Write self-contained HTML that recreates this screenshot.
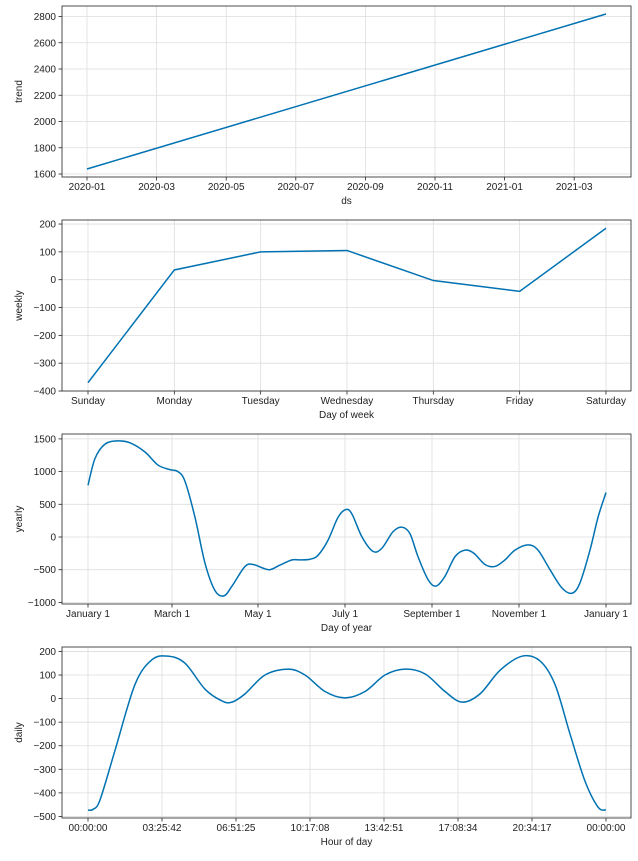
<!DOCTYPE html><html><head><style>body{margin:0;background:#fff}svg text{font-family:"Liberation Sans","DejaVu Sans",sans-serif;font-size:10px;fill:#222}</style></head><body>
<svg id="s" width="638" height="856" xmlns="http://www.w3.org/2000/svg"></svg>
<script>
const s=document.getElementById('s');let h='';
const L=62,R=631;
function panel(top,bot,xt,yt,yl,xl,pts,smooth){
 // grid
 xt.forEach(([x,t])=>{h+=`<line x1="${x}" y1="${top}" x2="${x}" y2="${bot}" stroke="#ddd" stroke-width="0.8"/>`;
  h+=`<line x1="${x}" y1="${bot}" x2="${x}" y2="${bot+3.5}" stroke="#222" stroke-width="0.8"/>`;
  h+=`<text x="${x}" y="${bot+13}" text-anchor="middle">${t}</text>`;});
 yt.forEach(([y,t])=>{h+=`<line x1="${L}" y1="${y}" x2="${R}" y2="${y}" stroke="#ddd" stroke-width="0.8"/>`;
  h+=`<line x1="${L-3.5}" y1="${y}" x2="${L}" y2="${y}" stroke="#222" stroke-width="0.8"/>`;
  h+=`<text x="${L-6}" y="${y+3.5}" text-anchor="end">${t}</text>`;});
 let d='M'+pts[0][0]+','+pts[0][1];
 if(smooth){for(let i=0;i<pts.length-1;i++){const p0=pts[Math.max(0,i-1)],p1=pts[i],p2=pts[i+1],p3=pts[Math.min(pts.length-1,i+2)];
  d+=` C${p1[0]+(p2[0]-p0[0])/6},${p1[1]+(p2[1]-p0[1])/6} ${p2[0]-(p3[0]-p1[0])/6},${p2[1]-(p3[1]-p1[1])/6} ${p2[0]},${p2[1]}`;}}
 else pts.slice(1).forEach(p=>d+=` L${p[0]},${p[1]}`);
 h+=`<path d="${d}" fill="none" stroke="#0072B2" stroke-width="1.5"/>`;
 h+=`<rect x="${L}" y="${top}" width="${R-L}" height="${bot-top}" fill="none" stroke="#222" stroke-width="0.8"/>`;
 h+=`<text x="${(L+R)/2}" y="${bot+27}" text-anchor="middle">${xl}</text>`;
 h+=`<text transform="translate(22,${(top+bot)/2}) rotate(-90)" text-anchor="middle">${yl}</text>`;
}
// trend
let xt=['2020-01','2020-03','2020-05','2020-07','2020-09','2020-11','2021-01','2021-03'].map((t,i)=>[87+i*69.6,t]);
let yt=[];for(let v=1600;v<=2800;v+=200)yt.push([174-(v-1600)*0.13125,v]);
panel(6,177,xt,yt,'trend','ds',[[87,169],[606,14]],false);
// weekly
xt=['Sunday','Monday','Tuesday','Wednesday','Thursday','Friday','Saturday'].map((t,i)=>[88+i*86.33,t]);
const wy=v=>279.7-v*0.2783;yt=[];for(let v=-400;v<=200;v+=100)yt.push([wy(v),v<0?'−'+(-v):v]);
panel(220,391,xt,yt,'weekly','Day of week',[-370,35,100,105,-3,-42,185].map((v,i)=>[88+i*86.33,wy(v)]),false);
// yearly
xt=['January 1','March 1','May 1','July 1','September 1','November 1','January 1'].map((t,i)=>[[88,172,258,345,432,519,606][i],t]);
const yy=v=>537-v*0.0654;yt=[];for(let v=-1000;v<=1500;v+=500)yt.push([yy(v),v<0?'−'+(-v):v]);
let yp=[[88,790],[95,1200],[105,1420],[118,1470],[130,1440],[145,1300],[158,1100],[170,1030],[178,1000],[185,850],[195,300],[205,-400],[215,-820],[224,-900],[232,-750],[245,-450],[253,-420],[262,-470],[270,-500],[280,-430],[292,-350],[300,-350],[310,-340],[318,-280],[328,-50],[338,300],[346,420],[352,350],[362,0],[373,-220],[382,-170],[393,80],[402,150],[410,50],[418,-300],[428,-650],[436,-750],[445,-600],[455,-300],[465,-200],[474,-250],[485,-420],[495,-450],[505,-350],[515,-200],[528,-120],[538,-200],[550,-500],[562,-780],[572,-860],[580,-700],[590,-200],[598,300],[606,680]];
panel(434,604,xt,yt,'yearly','Day of year',yp.map(p=>[p[0],yy(p[1])]),true);
// daily
xt=['00:00:00','03:25:42','06:51:25','10:17:08','13:42:51','17:08:34','20:34:17','00:00:00'].map((t,i)=>[88+i*74,t]);
const dy=v=>698.6-v*0.2357;yt=[];for(let v=-500;v<=200;v+=100)yt.push([dy(v),v<0?'−'+(-v):v]);
let dp=[[88,-473],[93,-470],[100,-430],[115,-220],[135,60],[152,165],[168,180],[185,150],[205,40],[222,-10],[232,-15],[245,20],[265,100],[288,125],[305,100],[325,30],[345,3],[365,30],[385,100],[405,125],[425,105],[445,30],[462,-15],[480,20],[500,120],[522,180],[540,160],[555,60],[570,-150],[585,-350],[598,-460],[606,-473]];
panel(647,818,xt,yt,'daily','Hour of day',dp.map(p=>[p[0],dy(p[1])]),true);
s.innerHTML=h;
</script></body></html>
